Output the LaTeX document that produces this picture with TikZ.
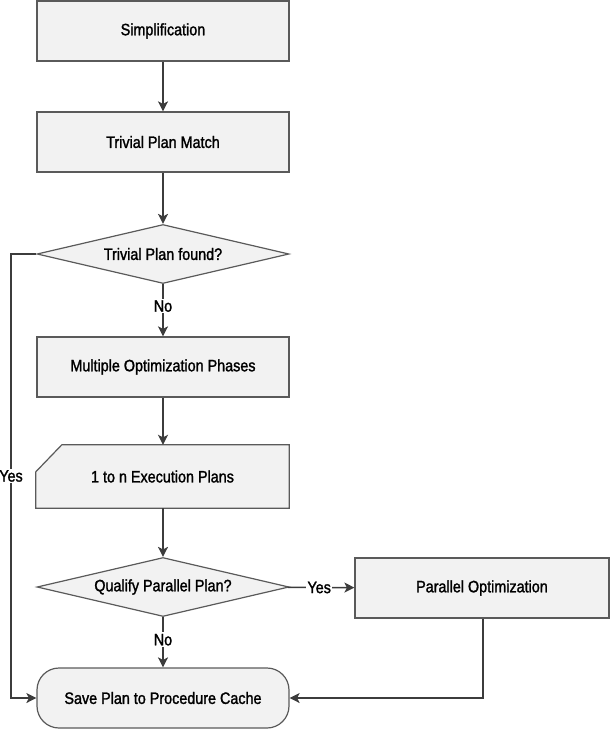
\documentclass[tikz,border=0pt]{standalone}
\usepackage{fontspec}
\setmainfont{Liberation Sans}[FakeStretch=0.87,FakeBold=1.5]
\usetikzlibrary{arrows.meta,shapes.geometric,backgrounds}
\definecolor{boxfill}{HTML}{F2F2F2}
\definecolor{boxline}{HTML}{5A5A5A}
\definecolor{conn}{HTML}{3C3C3C}
\begin{document}
\begin{tikzpicture}[x=1pt,y=-1pt,
  txt/.style={font=\fontsize{16.5}{19}\selectfont, text=black},
  procbox/.style={txt, draw=boxline, fill=boxfill, line width=1.2pt, rectangle, minimum width=252pt, minimum height=60pt, inner sep=0pt},
  decbox/.style={txt, draw=boxline, fill=boxfill, line width=1.2pt, diamond, aspect=4.3, minimum width=252pt, minimum height=59pt, inner sep=0pt},
  termbox/.style={procbox, rounded corners=22pt},
  link/.style={draw=conn, line width=1.5pt},
  arr/.style={link, -{Stealth[length=10pt,width=10pt,inset=2.5pt]}},
  lbl/.style={txt, fill=white, inner sep=1.5pt}
]
\useasboundingbox (0,0) rectangle (610,731);
\node[procbox] (s1) at (163,31) {Simplification};
\node[procbox] (s2) at (163,142) {Trivial Plan Match};
\node[decbox] (d1) at (163,254) {Trivial Plan found?};
\node[procbox] (s3) at (163,367) {Multiple Optimization Phases};
\node[txt, rectangle, minimum width=253pt, minimum height=63pt, inner sep=0pt] (s4) at (162.5,476.5) {1 to n Execution Plans};
\begin{scope}[on background layer]
\draw[draw=boxline, fill=boxfill, line width=1.2pt]
  ([xshift=26pt]s4.north west) -- (s4.north east) -- (s4.south east) -- (s4.south west) -- ([yshift=-27pt]s4.north west) -- cycle;
\end{scope}
\node[decbox] (d2) at (163,587) {Qualify Parallel Plan?};
\node[procbox, minimum width=254pt] (par) at (482,588) {Parallel Optimization};
\node[termbox] (save) at (163,698) {Save Plan to Procedure Cache};

\coordinate (yl1) at (11,254);
\coordinate (yl2) at (11,698);
\coordinate (pc) at (483,698);

\draw[arr] (s1) -- (s2);
\draw[arr] (s2) -- (d1);
\draw[arr] (d1) -- node[lbl, pos=0.42] {No} (s3);
\draw[arr] (s3) -- (s3 |- s4.north);
\draw[arr] (s3 |- s4.south) -- (d2);
\draw[arr] (d2) -- node[lbl, pos=0.45] {No} (save);
\draw[arr] (d2) -- node[lbl, pos=0.47] {Yes} (par);
\draw[arr] (d1.west) -- (yl1) -- node[lbl, pos=0.5] {Yes} (yl2) -- (save.west);
\draw[arr] (par.south -| pc) -- (pc) -- (save.east);
\end{tikzpicture}
\end{document}
